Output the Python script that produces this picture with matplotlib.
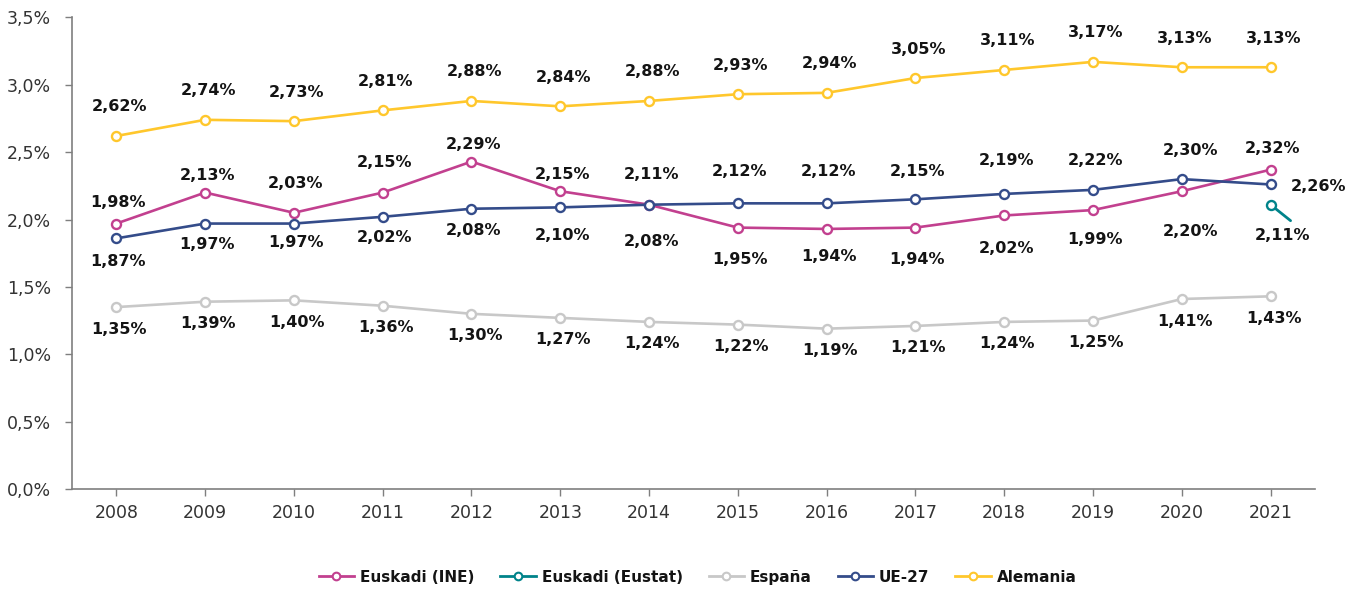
import matplotlib

matplotlib.use("Agg")
import matplotlib.pyplot as plt
from matplotlib.lines import Line2D
import numpy as np

YEARS = [2008, 2009, 2010, 2011, 2012, 2013, 2014, 2015, 2016, 2017, 2018, 2019, 2020, 2021]

# values as drawn
INE = [1.97, 2.20, 2.05, 2.20, 2.43, 2.21, 2.11, 1.94, 1.93, 1.94, 2.03, 2.07, 2.21, 2.37]
UE27 = [1.86, 1.97, 1.97, 2.02, 2.08, 2.09, 2.11, 2.12, 2.12, 2.15, 2.19, 2.22, 2.30, 2.26]
ESPANA = [1.35, 1.39, 1.40, 1.36, 1.30, 1.27, 1.24, 1.22, 1.19, 1.21, 1.24, 1.25, 1.41, 1.43]
ALEMANIA = [2.62, 2.74, 2.73, 2.81, 2.88, 2.84, 2.88, 2.93, 2.94, 3.05, 3.11, 3.17, 3.13, 3.13]
EUSTAT = [np.nan] * 13 + [2.11]

# values as printed in the labels
INE_LABELS = [1.98, 2.13, 2.03, 2.15, 2.29, 2.15, 2.11, 1.95, 1.94, 1.94, 2.02, 1.99, 2.20, 2.32]
UE27_LABELS = [1.87, 1.97, 1.97, 2.02, 2.08, 2.10, 2.08, 2.12, 2.12, 2.15, 2.19, 2.22, 2.30, 2.26]

# label offsets in pixels (vertical)
INE_DY = [21, 17, 29, 30, 17, 17, 30, -32, -28, -32, -33, -29, -40, 21]
UE_DY = [-23, -21, -19, -21, -22, -28, -37, 32, 32, 28, 33, 29, 29, -2]

COLORS = {
    "Euskadi (INE)": "#C2408F",
    "Euskadi (Eustat)": "#00838A",
    "España": "#C8C8C8",
    "UE-27": "#344C8A",
    "Alemania": "#FFC72C",
}

TXT = "#141414"
LABEL_FONT = dict(fontsize=11.5, fontweight="bold", color=TXT, family="DejaVu Sans")


def fmt(v):
    return f"{v:.2f}".replace(".", ",") + "%"


def main():
    fig = plt.figure(figsize=(13.6, 5.9), dpi=100)
    ax = fig.add_axes([0.0529, 0.1712, 0.9140, 0.7993])
    x = np.arange(len(YEARS))

    style = dict(linewidth=1.9, marker="o", markersize=6.5, markeredgewidth=1.7,
                 markerfacecolor="white")
    series = [
        ("España", ESPANA, 2),
        ("Alemania", ALEMANIA, 2),
        ("Euskadi (INE)", INE, 3),
        ("UE-27", UE27, 4),
        ("Euskadi (Eustat)", EUSTAT, 5),
    ]
    for name, vals, z in series:
        c = COLORS[name]
        ax.plot(x, vals, color=c, markeredgecolor=c, zorder=z, **style)

    def lab(xi, yi, text, dx, dy, ha="center"):
        ax.annotate(text, (xi, yi), xytext=(dx, dy), textcoords="offset pixels",
                    ha=ha, va="center", zorder=6, **LABEL_FONT)

    for i, v in enumerate(ALEMANIA):
        lab(x[i], v, fmt(v), 3, 29)
    for i, v in enumerate(ESPANA):
        lab(x[i], v, fmt(v), 3, -22)
    for i, v in enumerate(INE_LABELS):
        dx = 9 if i == 12 else 2
        lab(x[i], INE[i], fmt(v), dx, INE_DY[i])
    for i, v in enumerate(UE27_LABELS):
        if i == len(UE27_LABELS) - 1:
            lab(x[i], UE27[i], fmt(v), 20, UE_DY[i], ha="left")
        else:
            dx = 9 if i == 12 else 2
            lab(x[i], UE27[i], fmt(v), dx, UE_DY[i])

    # Eustat with leader line
    ax.annotate("", (x[-1], EUSTAT[-1]), xytext=(20, -16), textcoords="offset pixels",
                arrowprops=dict(arrowstyle="-", color=COLORS["Euskadi (Eustat)"],
                                lw=2.0, shrinkA=0, shrinkB=4), zorder=4)
    lab(x[-1], EUSTAT[-1], fmt(EUSTAT[-1]), 12, -31)

    ax.set_xlim(-0.5, len(YEARS) - 0.5)
    ax.set_ylim(0, 3.5)
    ax.set_xticks(x)
    ax.set_xticklabels([str(y) for y in YEARS])
    yt = np.arange(0, 3.51, 0.5)
    ax.set_yticks(yt)
    ax.set_yticklabels([f"{v:.1f}".replace(".", ",") + "%" for v in yt])

    for s in ("top", "right"):
        ax.spines[s].set_visible(False)
    for s in ("left", "bottom"):
        ax.spines[s].set_color("#7f7f7f")
        ax.spines[s].set_linewidth(1.2)
    ax.tick_params(axis="both", direction="out", length=5, width=1.0, color="#7f7f7f",
                   labelcolor="#333333", labelsize=12.5)
    ax.tick_params(axis="y", pad=10)
    ax.tick_params(axis="x", pad=6)

    leg_style = dict(style, markersize=5.5, linewidth=2.0, markeredgewidth=1.5)
    handles = [
        Line2D([0], [0], color=COLORS[n], markeredgecolor=COLORS[n], **leg_style)
        for n in COLORS
    ]
    fig.legend(handles, list(COLORS), loc="center", bbox_to_anchor=(0.513, 0.022),
               ncol=5, frameon=False, handlelength=2.3, handletextpad=0.4,
               columnspacing=1.7, prop=dict(size=11, weight="semibold"), labelcolor=TXT)

    fig.savefig("out.png", dpi=100)


if __name__ == "__main__":
    main()
